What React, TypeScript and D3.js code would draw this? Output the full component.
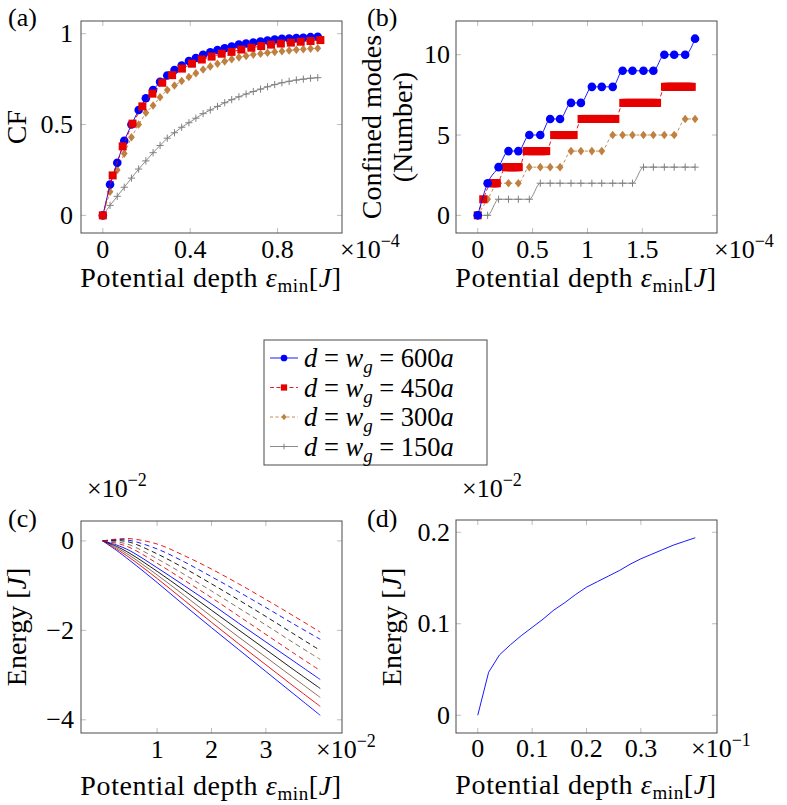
import React from 'react';
import * as d3 from 'd3';

const FONT = "'Liberation Serif', 'DejaVu Serif', 'Times New Roman', serif";

// ---------- Panel (a): CF vs potential depth (x in units of 1e-4) ----------
const cfX = [0, 0.033, 0.066, 0.098, 0.131, 0.164, 0.197, 0.23, 0.262, 0.295, 0.328, 0.361, 0.394, 0.426, 0.459, 0.492, 0.525, 0.558, 0.59, 0.623, 0.656, 0.689, 0.722, 0.754, 0.787, 0.82, 0.853, 0.886, 0.918, 0.951, 0.984];
const cf600 = [0, 0.17, 0.29, 0.41, 0.5, 0.58, 0.645, 0.69, 0.735, 0.77, 0.8, 0.825, 0.85, 0.866, 0.884, 0.898, 0.91, 0.92, 0.93, 0.94, 0.946, 0.952, 0.957, 0.963, 0.968, 0.972, 0.974, 0.976, 0.978, 0.981, 0.983];
const cf300 = [0, 0.13, 0.25, 0.34, 0.43, 0.5, 0.565, 0.605, 0.65, 0.69, 0.715, 0.74, 0.762, 0.782, 0.803, 0.82, 0.835, 0.848, 0.86, 0.87, 0.878, 0.885, 0.89, 0.895, 0.9, 0.904, 0.908, 0.912, 0.915, 0.918, 0.92];
const cf150 = [0, 0.055, 0.105, 0.155, 0.205, 0.255, 0.3, 0.345, 0.385, 0.425, 0.455, 0.485, 0.51, 0.535, 0.56, 0.58, 0.6, 0.62, 0.637, 0.653, 0.668, 0.682, 0.695, 0.708, 0.72, 0.73, 0.738, 0.745, 0.75, 0.755, 0.758];
const cfX450 = [0, 0.045, 0.091, 0.136, 0.181, 0.227, 0.272, 0.317, 0.362, 0.408, 0.453, 0.498, 0.544, 0.589, 0.634, 0.68, 0.725, 0.77, 0.815, 0.861, 0.906, 0.951, 0.996];
const cf450 = [0, 0.22, 0.38, 0.505, 0.6, 0.67, 0.73, 0.772, 0.808, 0.835, 0.858, 0.874, 0.89, 0.9, 0.913, 0.923, 0.932, 0.94, 0.946, 0.951, 0.956, 0.96, 0.965];
const aXTicks = [0, 0.4, 0.8];
const aXTickLabels = ['0', '0.4', '0.8'];
const aYTicks = [0, 0.5, 1];
const aYTickLabels = ['0', '0.5', '1'];

// ---------- Panel (b): confined modes ----------
const modesX = [0, 0.09, 0.19, 0.28, 0.37, 0.47, 0.57, 0.66, 0.75, 0.85, 0.94, 1.04, 1.13, 1.23, 1.32, 1.41, 1.51, 1.6, 1.7, 1.79, 1.89, 1.98];
const modes600 = [0, 2, 3, 4, 4, 5, 5, 6, 6, 7, 7, 8, 8, 8, 9, 9, 9, 9, 10, 10, 10, 11];
const modes300 = [0, 1, 2, 2, 2, 3, 3, 3, 3, 4, 4, 4, 4, 5, 5, 5, 5, 5, 5, 5, 6, 6];
const modes150 = [0, 0, 1, 1, 1, 1, 2, 2, 2, 2, 2, 2, 2, 2, 2, 2, 3, 3, 3, 3, 3, 3];
// 450a series is densely sampled: each plateau (level) spans [from, to]
const modes450Level = [0, 1, 2, 3, 4, 5, 6, 7, 8];
const modes450From = [0, 0.05, 0.126, 0.256, 0.446, 0.696, 0.946, 1.326, 1.706];
const modes450To = [0, 0.05, 0.174, 0.374, 0.624, 0.874, 1.254, 1.634, 1.95];
const modes450Step = 0.012;
const bXTicks = [0, 0.5, 1, 1.5];
const bXTickLabels = ['0', '0.5', '1', '1.5'];
const bYTicks = [0, 5, 10];
const bYTickLabels = ['0', '5', '10'];

// ---------- Panel (c): energy levels ----------
const energyX = [0, 0.25, 0.5, 1, 1.5, 2, 2.5, 3, 3.5, 4];
const eSolid1 = [0, -0.21, -0.44, -0.93, -1.44, -1.94, -2.43, -2.92, -3.41, -3.9];
const eSolid2 = [0, -0.18, -0.38, -0.84, -1.33, -1.82, -2.3, -2.77, -3.24, -3.7];
const eSolid3 = [0, -0.15, -0.33, -0.76, -1.22, -1.69, -2.15, -2.6, -3.05, -3.5];
const eSolid4 = [0, -0.12, -0.28, -0.68, -1.11, -1.55, -1.99, -2.43, -2.87, -3.3];
const eSolid5 = [0, -0.09, -0.22, -0.6, -1.0, -1.41, -1.84, -2.26, -2.68, -3.1];
const eDash1 = [0, -0.05, -0.15, -0.5, -0.88, -1.27, -1.68, -2.09, -2.5, -2.9];
const eDash2 = [0, -0.02, -0.09, -0.4, -0.75, -1.12, -1.5, -1.88, -2.27, -2.65];
const eDash3 = [0, 0.01, -0.03, -0.29, -0.61, -0.96, -1.32, -1.69, -2.07, -2.45];
const eDash4 = [0, 0.03, 0.01, -0.18, -0.47, -0.8, -1.14, -1.49, -1.85, -2.2];
const eDash5 = [0, 0.04, 0.05, -0.07, -0.33, -0.63, -0.96, -1.31, -1.67, -2.04];
const cXTicks = [1, 2, 3];
const cXTickLabels = ['1', '2', '3'];
const cYTicks = [0, -2, -4];
const cYTickLabels = ['0', '\u22122', '\u22124'];

// ---------- Panel (d) ----------
const depthX = [0, 0.02, 0.04, 0.06, 0.08, 0.1, 0.12, 0.14, 0.16, 0.18, 0.2, 0.22, 0.24, 0.26, 0.28, 0.3, 0.32, 0.34, 0.36, 0.38, 0.4];
const energyD = [0, 0.047, 0.066, 0.077, 0.087, 0.096, 0.105, 0.115, 0.123, 0.132, 0.14, 0.146, 0.152, 0.158, 0.165, 0.171, 0.176, 0.181, 0.186, 0.19, 0.194];
const dXTicks = [0, 0.1, 0.2, 0.3];
const dXTickLabels = ['0', '0.1', '0.2', '0.3'];
const dYTicks = [0, 0.1, 0.2];
const dYTickLabels = ['0', '0.1', '0.2'];

const legendNumbers = ['600', '450', '300', '150'];

const BLUE = '#0000ff';
const RED = '#e60000';
const BROWN = '#bf8040';
const GRAY = '#808080';
const BROWN_DARK = '#7a6048';
const FRAME = '#4a4a4a';
const TICK = '#bdbdbd';

type Sc = d3.ScaleLinear<number, number>;
const T: React.CSSProperties = { fontFamily: FONT };

function Frame({ x, y, xt, xl, yt, yl, tickBase, yGap }: { x: Sc; y: Sc; xt: number[]; xl: string[]; yt: number[]; yl: string[]; tickBase: number; yGap: number }) {
  const [x0, x1] = x.range();
  const [y0, y1] = y.range();
  return (
    <g>
      {xt.map((t) => (
        <g key={'xt' + t}>
          <line x1={x(t)} x2={x(t)} y1={y0} y2={y0 - 5} stroke={TICK} />
          <line x1={x(t)} x2={x(t)} y1={y1} y2={y1 + 5} stroke={TICK} />
        </g>
      ))}
      {yt.map((t) => (
        <g key={'yt' + t}>
          <line x1={x0} x2={x0 + 5} y1={y(t)} y2={y(t)} stroke={TICK} />
          <line x1={x1} x2={x1 - 5} y1={y(t)} y2={y(t)} stroke={TICK} />
        </g>
      ))}
      <rect x={x0} y={y1} width={x1 - x0} height={y0 - y1} fill="none" stroke={FRAME} strokeWidth={1} />
      {xt.map((t, i) => (
        <text key={'xl' + t} x={x(t)} y={y0 + tickBase} textAnchor="middle" fontSize={26} style={T}>{xl[i]}</text>
      ))}
      {yt.map((t, i) => (
        <text key={'yl' + t} x={x0 - yGap} y={y(t) + 8.5} textAnchor="end" fontSize={26} style={T}>{yl[i]}</text>
      ))}
    </g>
  );
}

function XLabel({ cx, y }: { cx: number; y: number }) {
  return (
    <text x={cx} y={y} textAnchor="middle" fontSize={28} style={{ ...T, letterSpacing: '0.6px' }}>
      Potential depth{' '}
      <tspan fontStyle="italic">ε</tspan>
      <tspan fontSize={19} dy={5}>min</tspan>
      <tspan dy={-5}>[</tspan>
      <tspan fontStyle="italic">J</tspan>]
    </text>
  );
}

function Mult({ x, y, exp }: { x: number; y: number; exp: string }) {
  return (
    <text x={x} y={y} fontSize={26} style={T}>
      ×10<tspan fontSize={18} dy={-11}>{exp}</tspan>
    </text>
  );
}

function Marker({ kind, cx, cy, s = 1 }: { kind: string; cx: number; cy: number; s?: number }) {
  if (kind === 'circle') return <circle cx={cx} cy={cy} r={4.3 * s} fill={BLUE} />;
  if (kind === 'square') return <rect x={cx - 4 * s} y={cy - 4 * s} width={8 * s} height={8 * s} fill={RED} />;
  if (kind === 'diamond') return <path d={`M${cx},${cy - 4.3 * s}L${cx + 3.4 * s},${cy}L${cx},${cy + 4.3 * s}L${cx - 3.4 * s},${cy}Z`} fill={BROWN} />;
  return <path d={`M${cx - 3.6 * s},${cy}H${cx + 3.6 * s}M${cx},${cy - 3.6 * s}V${cy + 3.6 * s}`} stroke={GRAY} strokeWidth={1} />;
}

function Series({ xs, ys, x, y, color, dash, marker, curve }: { xs: number[]; ys: number[]; x: Sc; y: Sc; color: string; dash?: string; marker: string; curve: d3.CurveFactory }) {
  const pts = xs.map((v, i) => [v, ys[i]] as [number, number]);
  const line = d3.line<[number, number]>().x((d) => x(d[0])).y((d) => y(d[1])).curve(curve);
  return (
    <g>
      <path d={line(pts) || ''} fill="none" stroke={color} strokeWidth={0.9} strokeDasharray={dash} />
      {pts.map((p, i) => (
        <Marker key={i} kind={marker} cx={x(p[0])} cy={y(p[1])} />
      ))}
    </g>
  );
}

export default function App() {
  const xa = d3.scaleLinear().domain([-0.1, 1.095]).range([81, 342]);
  const ya = d3.scaleLinear().domain([-0.097, 1.07]).range([233, 21]);
  const xb = d3.scaleLinear().domain([-0.198, 2.18]).range([456, 717]);
  const yb = d3.scaleLinear().domain([-1.1, 12.1]).range([233, 21]);
  const xc = d3.scaleLinear().domain([-0.4, 4.4]).range([81, 342]);
  const yc = d3.scaleLinear().domain([-4.295, 0.445]).range([733, 521]);
  const xd = d3.scaleLinear().domain([-0.04, 0.44]).range([456, 717]);
  const yd = d3.scaleLinear().domain([-0.0194, 0.2134]).range([733, 520]);

  const m450x: number[] = [];
  const m450y: number[] = [];
  modes450Level.forEach((lv, i) => {
    const from = modes450From[i];
    const to = modes450To[i];
    const n = Math.max(0, Math.round((to - from) / modes450Step));
    for (let k = 0; k <= n; k++) {
      m450x.push(n === 0 ? from : from + ((to - from) * k) / n);
      m450y.push(lv);
    }
  });

  const cSeries = [
    { ys: eSolid1, color: BLUE, dash: undefined },
    { ys: eSolid2, color: RED, dash: undefined },
    { ys: eSolid3, color: BROWN_DARK, dash: undefined },
    { ys: eSolid4, color: '#000000', dash: undefined },
    { ys: eSolid5, color: BLUE, dash: undefined },
    { ys: eDash1, color: RED, dash: '5,3.5' },
    { ys: eDash2, color: BROWN_DARK, dash: '5,3.5' },
    { ys: eDash3, color: '#000000', dash: '5,3.5' },
    { ys: eDash4, color: BLUE, dash: '5,3.5' },
    { ys: eDash5, color: RED, dash: '5,3.5' },
  ];
  const lineC = d3.line<[number, number]>().x((d) => xc(d[0])).y((d) => yc(d[1])).curve(d3.curveCatmullRom);
  const lineD = d3.line<[number, number]>().x((d) => xd(d[0])).y((d) => yd(d[1]));

  const legendRows = [
    { color: BLUE, dash: undefined, marker: 'circle' },
    { color: RED, dash: '4,2.5', marker: 'square' },
    { color: BROWN, dash: '3,2.5', marker: 'diamond' },
    { color: GRAY, dash: undefined, marker: 'plus' },
  ];

  return (
    <svg width={787} height={805} style={{ position: 'absolute', left: 0, top: 0, background: '#fff', fontFamily: FONT }}>
      <rect width={787} height={805} fill="#fff" />

      {/* Panel (a) */}
      <text x={8} y={26} fontSize={26} style={T}>(a)</text>
      <Series xs={cfX} ys={cf150} x={xa} y={ya} color={GRAY} marker="plus" curve={d3.curveLinear} />
      <Series xs={cfX} ys={cf300} x={xa} y={ya} color={BROWN} dash="3,2.5" marker="diamond" curve={d3.curveLinear} />
      <Series xs={cfX} ys={cf600} x={xa} y={ya} color={BLUE} marker="circle" curve={d3.curveLinear} />
      <Series xs={cfX450} ys={cf450} x={xa} y={ya} color={RED} dash="4,2.5" marker="square" curve={d3.curveLinear} />
      <Frame x={xa} y={ya} xt={aXTicks} xl={aXTickLabels} yt={aYTicks} yl={aYTickLabels} tickBase={25} yGap={8} />
      <text transform="translate(26,127) rotate(-90)" textAnchor="middle" fontSize={28} style={T}>CF</text>
      <Mult x={340} y={258} exp={'\u22124'} />
      <XLabel cx={211} y={287} />

      {/* Panel (b) */}
      <text x={367} y={26} fontSize={26} style={T}>(b)</text>
      <Series xs={modesX} ys={modes150} x={xb} y={yb} color={GRAY} marker="plus" curve={d3.curveMonotoneX} />
      <Series xs={modesX} ys={modes300} x={xb} y={yb} color={BROWN} dash="3,2.5" marker="diamond" curve={d3.curveMonotoneX} />
      <Series xs={m450x} ys={m450y} x={xb} y={yb} color={RED} dash="4,2.5" marker="square" curve={d3.curveMonotoneX} />
      <Series xs={modesX} ys={modes600} x={xb} y={yb} color={BLUE} marker="circle" curve={d3.curveMonotoneX} />
      <Frame x={xb} y={yb} xt={bXTicks} xl={bXTickLabels} yt={bYTicks} yl={bYTickLabels} tickBase={25} yGap={6} />
      <text transform="translate(381,127) rotate(-90)" textAnchor="middle" fontSize={28} style={T}>Confined modes</text>
      <text transform="translate(412,127) rotate(-90)" textAnchor="middle" fontSize={28} style={T}>(Number)</text>
      <Mult x={714} y={258} exp={'\u22124'} />
      <XLabel cx={586} y={287} />

      {/* Legend */}
      <rect x={264} y={340} width={223} height={125} fill="#fff" stroke={FRAME} strokeWidth={1} />
      {legendRows.map((r, i) => {
        const cy = 358 + i * 29.5;
        return (
          <g key={i}>
            <line x1={270} x2={298} y1={cy} y2={cy} stroke={r.color} strokeWidth={0.9} strokeDasharray={r.dash} />
            <Marker kind={r.marker} cx={284} cy={cy} s={0.78} />
            <text x={304} y={cy + 9} fontSize={26.5} style={T}>
              <tspan fontStyle="italic">d</tspan>
              <tspan> = </tspan>
              <tspan fontStyle="italic">w</tspan>
              <tspan fontStyle="italic" fontSize={19} dy={6}>g</tspan>
              <tspan dy={-6}> = {legendNumbers[i]}</tspan>
              <tspan fontStyle="italic">a</tspan>
            </text>
          </g>
        );
      })}

      {/* Panel (c) */}
      <text x={8} y={527} fontSize={26} style={T}>(c)</text>
      {cSeries.map((s, i) => (
        <path key={i} d={lineC(energyX.map((v, k) => [v, s.ys[k]] as [number, number])) || ''} fill="none" stroke={s.color} strokeWidth={0.9} strokeDasharray={s.dash} />
      ))}
      <Frame x={xc} y={yc} xt={cXTicks} xl={cXTickLabels} yt={cYTicks} yl={cYTickLabels} tickBase={25} yGap={7} />
      <text transform="translate(26,627) rotate(-90)" textAnchor="middle" fontSize={28} style={T}>
        Energy [<tspan fontStyle="italic">J</tspan>]
      </text>
      <Mult x={87} y={497} exp={'\u22122'} />
      <Mult x={316} y={758} exp={'\u22122'} />
      <XLabel cx={211} y={795} />

      {/* Panel (d) */}
      <text x={367} y={527} fontSize={26} style={T}>(d)</text>
      <path d={lineD(depthX.map((v, k) => [v, energyD[k]] as [number, number])) || ''} fill="none" stroke={BLUE} strokeWidth={0.9} />
      <Frame x={xd} y={yd} xt={dXTicks} xl={dXTickLabels} yt={dYTicks} yl={dYTickLabels} tickBase={24} yGap={6} />
      <text transform="translate(401,627) rotate(-90)" textAnchor="middle" fontSize={28} style={T}>
        Energy [<tspan fontStyle="italic">J</tspan>]
      </text>
      <Mult x={462} y={497} exp={'\u22122'} />
      <Mult x={691} y={757} exp={'\u22121'} />
      <XLabel cx={586} y={794} />
    </svg>
  );
}
